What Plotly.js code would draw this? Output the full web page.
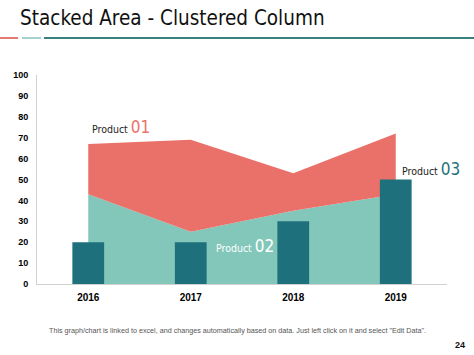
<!DOCTYPE html>
<html><head><meta charset="utf-8">
<script src="https://cdn.plot.ly/plotly-3.0.1.min.js"></script>
<style>html,body{margin:0;padding:0;background:#fff;}#c{width:474px;height:355px;}</style>
</head><body><div id="c"></div>
<script>
var years = ['2016', '2017', '2018', '2019'];
var product02 = [43, 25, 35, 43];
var product01 = [24, 44, 18, 29];
var product03 = [20, 20, 30, 50];
var yTicks = [0, 10, 20, 30, 40, 50, 60, 70, 80, 90, 100];

var traces = [
  {x: years, y: product02, type: 'scatter', mode: 'none', stackgroup: 'a', fillcolor: '#82C7B9', line: {width: 0}, hoverinfo: 'skip'},
  {x: years, y: product01, type: 'scatter', mode: 'none', stackgroup: 'a', fillcolor: '#E9716A', line: {width: 0}, hoverinfo: 'skip'},
  {x: years, y: product03, type: 'bar', marker: {color: '#1E717C'}, width: 0.31, xaxis: 'x2', yaxis: 'y2'}
];

var layout = {
  width: 474, height: 355,
  margin: {l: 37, r: 27, t: 75, b: 71},
  paper_bgcolor: '#fff', plot_bgcolor: 'rgba(0,0,0,0)',
  showlegend: false,
  font: {family: 'Liberation Sans, Arial, sans-serif', color: '#000'},
  xaxis: {type: 'category', range: [-0.5, 3.5], showgrid: false, zeroline: false,
    showline: true, linecolor: '#d0d0d0', linewidth: 1, ticks: '',
    tickfont: {size: 10, family: 'Liberation Sans, Arial', weight: 'bold'}, ticklabelstandoff: 4},
  yaxis: {range: [0, 100], tickvals: yTicks, showgrid: false, zeroline: false,
    showline: true, linecolor: '#d0d0d0', linewidth: 1, ticks: '',
    tickfont: {size: 9, family: 'Liberation Sans, Arial', weight: 'bold'}, ticklabelstandoff: 6},
  xaxis2: {type: 'category', overlaying: 'x', range: [-0.5, 3.5], visible: false, showgrid: false, zeroline: false},
  yaxis2: {overlaying: 'y', range: [0, 100], visible: false, showgrid: false, zeroline: false},
  shapes: [
    {type: 'line', xref: 'paper', yref: 'paper', x0: -37/410, x1: -19/410, y0: (355-71-38)/209, y1: (355-71-38)/209, line: {color: '#E07A72', width: 2}},
    {type: 'line', xref: 'paper', yref: 'paper', x0: -15/410, x1: 4/410, y0: (355-71-38)/209, y1: (355-71-38)/209, line: {color: '#A3D3CE', width: 2}},
    {type: 'line', xref: 'paper', yref: 'paper', x0: 7/410, x1: 437/410, y0: (355-71-38)/209, y1: (355-71-38)/209, line: {color: '#3C7F80', width: 2}}
  ],
  annotations: [
    {xref: 'paper', yref: 'paper', x: -19/410, y: (284-18)/209, xanchor: 'left', yanchor: 'middle', showarrow: false,
      text: 'Stacked Area - Clustered Column', font: {size: 20.5, family: 'DejaVu Sans Condensed, Tahoma, sans-serif', color: '#111'}},
    {xref: 'paper', yref: 'paper', x: 53/410, y: (284-127)/209, xanchor: 'left', yanchor: 'middle', showarrow: false,
      text: 'Product <span style="font-size:17px;color:#E9716A">01</span>', font: {size: 10.5, family: 'DejaVu Sans Condensed, sans-serif', color: '#222'}},
    {xref: 'paper', yref: 'paper', x: 177/410, y: (284-246)/209, xanchor: 'left', yanchor: 'middle', showarrow: false,
      text: 'Product <span style="font-size:17px">02</span>', font: {size: 10.5, family: 'DejaVu Sans Condensed, sans-serif', color: '#fff'}},
    {xref: 'paper', yref: 'paper', x: 363/410, y: (284-169)/209, xanchor: 'left', yanchor: 'middle', showarrow: false,
      text: 'Product <span style="font-size:17px;color:#1E717C">03</span>', font: {size: 10.5, family: 'DejaVu Sans Condensed, sans-serif', color: '#222'}},
    {xref: 'paper', yref: 'paper', x: 200/410, y: (284-330)/209, xanchor: 'center', yanchor: 'middle', showarrow: false,
      text: 'This graph/chart is linked to excel, and changes automatically based on data. Just left click on it and select "Edit Data".',
      font: {size: 7.2, family: 'Liberation Sans, Arial', color: '#555'}},
    {xref: 'paper', yref: 'paper', x: 430/410, y: (284-345)/209, xanchor: 'right', yanchor: 'middle', showarrow: false,
      text: '<b>24</b>', font: {size: 9, family: 'Liberation Sans, Arial', color: '#111'}}
  ]
};

Plotly.newPlot('c', traces, layout, {displayModeBar: false, staticPlot: true});
</script>
</body></html>
